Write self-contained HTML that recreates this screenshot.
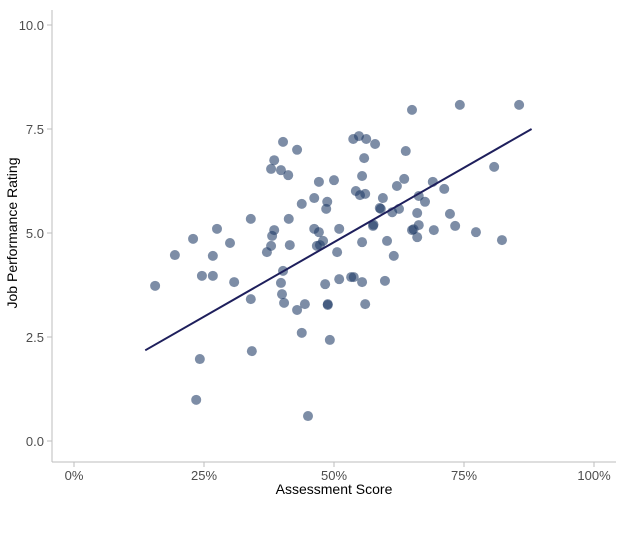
<!DOCTYPE html>
<html><head><meta charset="utf-8"><style>
body{margin:0;background:#fff;font-family:"Liberation Sans",sans-serif}
svg text{font-family:"Liberation Sans",sans-serif}
</style></head><body>
<svg id="chart" width="624" height="532" viewBox="0 0 624 532" xmlns="http://www.w3.org/2000/svg">
<rect width="624" height="532" fill="#fff"/>
<g id="axes"></g>
<g id="points"></g>
<g id="fit"></g>
<text x="334" y="494" text-anchor="middle" font-size="14" fill="#000">Assessment Score</text>
<text transform="translate(17,233) rotate(-90)" text-anchor="middle" font-size="14" fill="#000">Job Performance Rating</text>
</svg>
<script>
const xTicks=[0,25,50,75,100];
const xTickLabels=["0%","25%","50%","75%","100%"];
const yTicks=[0,2.5,5,7.5,10];
const yTickLabels=["0.0","2.5","5.0","7.5","10.0"];
const xs=[15.6,19.4,22.9,24.6,26.7,26.7,27.5,30.0,30.8,34.0,34.0,34.2,24.2,23.5,37.1,37.9,38.1,38.5,37.9,38.5,39.8,41.2,40.2,42.9,41.3,41.5,40.2,39.8,40.0,40.4,42.9,44.4,43.8,45.0,49.2,48.8,48.8,48.3,51.0,53.3,53.8,55.4,56.0,55.4,50.6,46.7,47.3,47.9,47.1,46.2,51.0,43.8,46.2,48.7,48.5,47.1,50.0,54.2,55.0,56.0,55.4,55.8,53.7,54.8,56.2,57.9,57.5,57.6,65.0,74.2,85.6,63.8,63.5,62.1,69.0,71.2,80.8,59.4,66.3,67.5,58.8,59.0,61.2,62.5,66.0,72.3,65.0,65.3,66.3,69.2,73.3,77.3,82.3,66.0,60.2,61.5,59.8];
const ys=[3.73,4.47,4.86,3.97,3.97,4.45,5.10,4.76,3.82,5.34,3.41,2.16,1.97,0.99,4.54,4.69,4.93,5.07,6.54,6.75,6.51,6.39,7.19,7.00,5.34,4.71,4.09,3.80,3.53,3.32,3.15,3.29,2.60,0.60,2.43,3.29,3.27,3.77,3.89,3.94,3.94,3.82,3.29,4.78,4.54,4.69,4.71,4.81,5.02,5.10,5.10,5.70,5.84,5.75,5.58,6.23,6.27,6.01,5.91,5.94,6.37,6.80,7.26,7.33,7.26,7.14,5.17,5.20,7.96,8.08,8.08,6.97,6.30,6.13,6.23,6.06,6.59,5.84,5.89,5.75,5.60,5.58,5.50,5.58,5.48,5.46,5.07,5.09,5.19,5.07,5.17,5.02,4.83,4.90,4.81,4.45,3.85];
const fitX=[13.7,88];
const fitY=[2.18,7.5];
const NS="http://www.w3.org/2000/svg";
const sx=v=>74+v*5.2, sy=v=>441-v*41.6;
function mk(t,a,p){const e=document.createElementNS(NS,t);for(const k in a)e.setAttribute(k,a[k]);p.appendChild(e);return e;}
const ax=document.getElementById('axes');
let l=mk('line',{x1:52,y1:10,x2:52,y2:462,stroke:'#bdbdbd','stroke-width':1},ax);


l=mk('line',{x1:52,y1:462,x2:616,y2:462,stroke:'#bdbdbd','stroke-width':1},ax);


yTicks.forEach((v,i)=>{
 mk('line',{x1:47,x2:52,y1:sy(v),y2:sy(v),stroke:'#bdbdbd'},ax);
 const t=mk('text',{x:44,y:sy(v)+5,'text-anchor':'end','font-size':13,fill:'#4d4d4d'},ax);
 t.textContent=yTickLabels[i];
 
 
});
xTicks.forEach((v,i)=>{
 mk('line',{x1:sx(v),x2:sx(v),y1:462,y2:467,stroke:'#bdbdbd'},ax);
 const t=mk('text',{x:sx(v),y:480,'text-anchor':'middle','font-size':13,fill:'#4d4d4d'},ax);
 t.textContent=xTickLabels[i];
 
 
});
const pg=document.getElementById('points');
xs.forEach((x,i)=>{
 const c=mk('circle',{cx:sx(x),cy:sy(ys[i]),r:5,fill:'#1f3a66','fill-opacity':0.58},pg);
 
 
});
const f=mk('line',{x1:sx(fitX[0]),y1:sy(fitY[0]),x2:sx(fitX[1]),y2:sy(fitY[1]),stroke:'#1e1f5c','stroke-width':2},document.getElementById('fit'));


</script>
</body></html>
